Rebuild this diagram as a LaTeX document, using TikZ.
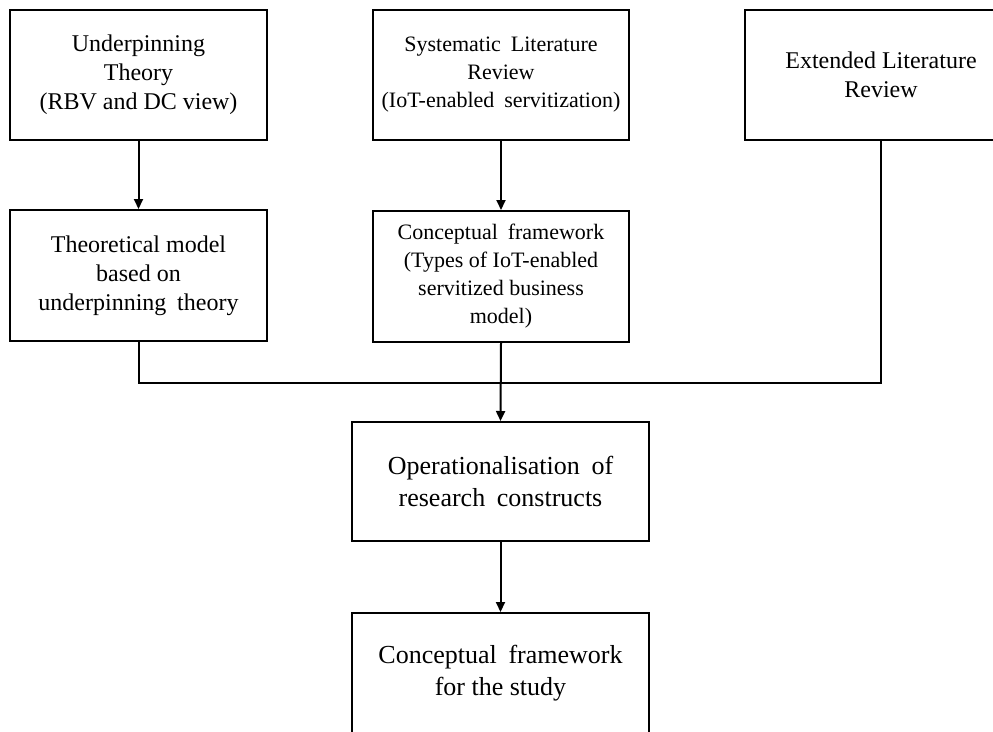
\documentclass[tikz,border=0pt]{standalone}
\usepackage{fontspec}
\setmainfont{Liberation Serif}
\usetikzlibrary{arrows.meta}

% wide inter-word gap used in the justified lines
\newcommand{\wsp}{\hspace{0.45em}}

\begin{document}
\begin{tikzpicture}[x=1pt,y=-1pt,
  box/.style={draw=black, line width=2pt, rectangle, inner sep=0pt,
              align=center, text=black},
  big/.style={font=\fontsize{24}{29}\selectfont},
  mid/.style={font=\fontsize{22}{28}\selectfont},
  large/.style={font=\fontsize{26}{32}\selectfont},
  link/.style={draw=black, line width=2pt},
  arrowlink/.style={link, -{Triangle[length=10pt,width=9pt]}}
]
\useasboundingbox (0,0) rectangle (993,731);
\clip (0,0) rectangle (993,731);
\fill[white] (0,0) rectangle (993,731);

% top row
\node[box, big, minimum width=257pt, minimum height=130pt] (under) at (138.5,75)
  {Underpinning\\Theory\\(RBV and DC view)};
\node[box, mid, minimum width=256pt, minimum height=130pt] (slr) at (501,75)
  {Systematic\wsp Literature\\Review\\(IoT-enabled\wsp servitization)};
\node[box, big, minimum width=272pt, minimum height=130pt] (ext) at (881,75)
  {Extended Literature\\Review};

% second row
\node[box, big, minimum width=257pt, minimum height=131pt] (theo) at (138.5,275.5)
  {Theoretical model\\based on\\underpinning\wsp theory};
\node[box, mid, minimum width=256pt, minimum height=131pt] (conc) at (501,276.5)
  {Conceptual\wsp framework\\(Types of IoT-enabled\\servitized business\\model)};

% lower column
\node[box, large, minimum width=297pt, minimum height=119pt] (oper) at (500.5,481.5)
  {Operationalisation\wsp of\\research\wsp constructs};
\node[box, large, minimum width=297pt, minimum height=120pt] (study) at (500.5,673)
  {Conceptual\wsp framework\\for the study};

% junction line collecting the three streams
\coordinate (join) at (501,383);

\draw[arrowlink] (under.south) -- (theo.north);
\draw[arrowlink] (slr.south) -- (conc.north);
\draw[link] (theo.south) -- (theo.south |- join) -- (ext.south |- join) -- (ext.south);
\draw[arrowlink] (conc.south) -- (oper.north);
\draw[arrowlink] (oper.south) -- (study.north);
\end{tikzpicture}
\end{document}
